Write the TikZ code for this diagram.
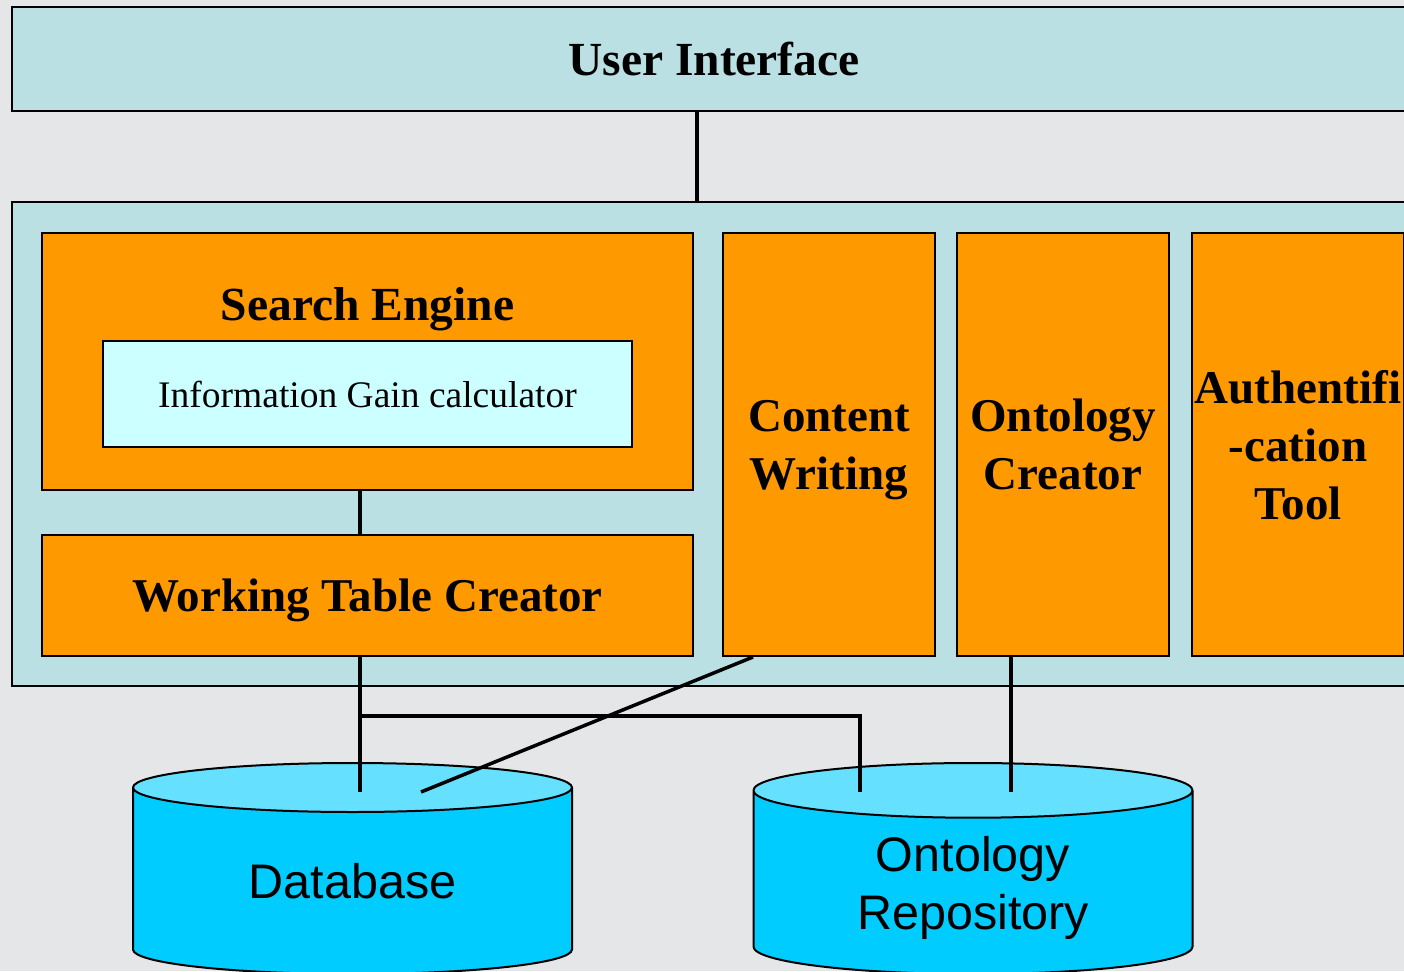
\documentclass[tikz,border=0pt]{standalone}
\usepackage{fontspec}
\setmainfont{Liberation Serif}
\newfontfamily\dbfont{Liberation Sans}
\usetikzlibrary{shapes.geometric,calc}

\definecolor{paper}{RGB}{229,230,232}
\definecolor{tealbg}{RGB}{186,224,227}
\definecolor{modorange}{RGB}{255,153,0}
\definecolor{calccyan}{RGB}{204,255,255}
\definecolor{dbbody}{RGB}{0,204,255}
\definecolor{dbtop}{RGB}{102,224,255}

\begin{document}
\begin{tikzpicture}[x=1pt, y=-1pt,
    layer/.style={rectangle, draw, line width=2.5pt, fill=tealbg, minimum width=1404pt},
    module/.style={rectangle, draw, line width=2pt, fill=modorange, inner sep=0pt, align=center,
      text depth=0pt, font=\bfseries\fontsize{47}{58}\selectfont},
    calcbox/.style={rectangle, draw, line width=2.5pt, fill=calccyan, inner sep=0pt,
      font=\fontsize{37.5}{45}\selectfont},
    store/.style={cylinder, shape border rotate=90, aspect=0.236, draw, line width=2pt,
      cylinder uses custom fill, cylinder body fill=dbbody, cylinder end fill=dbtop,
      minimum width=439pt, minimum height=211pt, inner sep=0pt, align=center,
      text depth=0pt, anchor=shape center, font=\dbfont\fontsize{48.5}{58}\selectfont},
    link/.style={line width=3.5pt}]

  % Canvas
  \useasboundingbox (0,0) rectangle (1404,971);
  \clip (0,0) rectangle (1404,971);
  \fill[paper] (0,0) rectangle (1404,971);

  % Layers
  \node[layer, minimum height=104pt, font=\bfseries\fontsize{47.5}{58}\selectfont] (ui) at (714,59) {User Interface};
  \node[layer, minimum height=484pt] (core) at (714,444) {};

  % Modules
  \node[module, minimum width=651pt, minimum height=257pt,
    label={[name=setitle, anchor=north, inner sep=0pt, yshift=-55pt, font=\bfseries\fontsize{47.5}{58}\selectfont]north:Search Engine}] (se) at (367.5,361.5) {};
  \node[calcbox, minimum width=529pt, minimum height=106pt] (ig) at (367.5,394) {Information Gain calculator};
  \node[module, minimum width=651pt, minimum height=121pt] (wtc) at (367.5,595.5) {Working Table Creator};
  \node[module, minimum width=212pt, minimum height=423pt] (cw) at (829,444.5) {Content\\Writing};
  \node[module, minimum width=212pt, minimum height=423pt] (oc) at (1063,444.5) {Ontology\\Creator};
  \node[module, minimum width=212pt, minimum height=423pt] (auth) at (1298,444.5) {Authentifi\\-cation\\Tool};

  % Stores
  \node[store] (db) at (352.5,868.5) {Database};
  \node[store] (orep) at (973,868.5) {Ontology\\Repository};

  \coordinate (dbin) at (360,792);
  \coordinate (dbcw) at (421,792);
  \coordinate (fork) at (360,716);
  \coordinate (orin) at (860,792);
  \coordinate (ocin) at (1011,792);

  % Links
  \draw[link] ([xshift=-17pt]ui.south) -- ([xshift=-17pt]ui.south |- core.north);
  \draw[link] ([xshift=-7.5pt]se.south) -- ([xshift=-7.5pt]se.south |- wtc.north);
  \draw[link] ([xshift=-7.5pt]wtc.south) -- (dbin);
  \draw[link] (fork) -| (orin);
  \draw[link] ([xshift=-76pt]cw.south) -- (dbcw);
  \draw[link] ([xshift=-52pt]oc.south) -- (ocin);

\end{tikzpicture}
\end{document}
